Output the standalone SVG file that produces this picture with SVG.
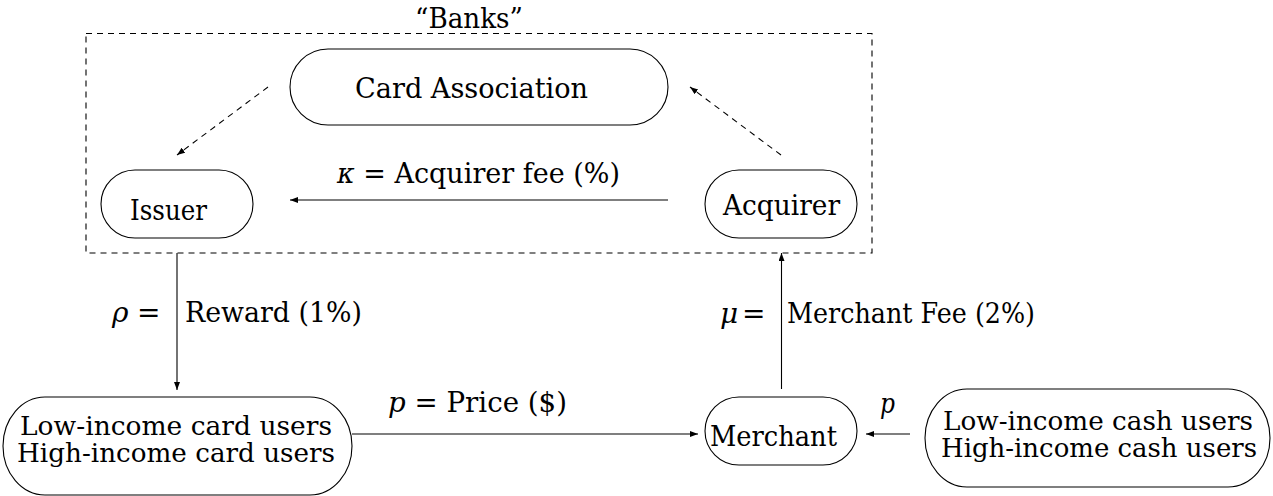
<svg xmlns="http://www.w3.org/2000/svg" width="1273" height="496" viewBox="0 0 1273 496">
  <style>
    .node { fill: #fff; stroke: #000; stroke-width: 1.1; }
    .edge { fill: none; stroke: #000; stroke-width: 1.1; }
    .dash { stroke-dasharray: 6 5; }
    .m { font-style: italic; }
  </style>
  <defs>
    <marker id="tip" markerUnits="userSpaceOnUse" markerWidth="9" markerHeight="7" refX="8" refY="3" orient="auto">
      <path d="M0,0 L8,3 L0,6 z" fill="#000"/>
    </marker>
  </defs>

  <g font-family="DejaVu Serif, serif" font-size="28" fill="#000">
    <!-- banks group frame -->
    <g id="banks">
      <rect x="86" y="33.5" width="786" height="219.5" fill="none" stroke="#000" stroke-width="1.1" stroke-dasharray="6 5"/>
      <text x="415" y="28" textLength="108" lengthAdjust="spacingAndGlyphs">“Banks”</text>
    </g>

    <g id="card-association">
      <rect class="node" x="290" y="49" width="378" height="76" rx="38" ry="38"/>
      <text x="355" y="98" textLength="233" lengthAdjust="spacingAndGlyphs">Card Association</text>
    </g>

    <g id="issuer">
      <rect class="node" x="101" y="170" width="152" height="68" rx="34" ry="34"/>
      <text x="130" y="220" textLength="77" lengthAdjust="spacingAndGlyphs">Issuer</text>
    </g>

    <g id="acquirer">
      <rect class="node" x="705" y="170" width="152" height="68" rx="34" ry="34"/>
      <text x="723" y="215" textLength="117" lengthAdjust="spacingAndGlyphs">Acquirer</text>
    </g>

    <g id="card-users">
      <rect class="node" x="3" y="397" width="349" height="98" rx="42" ry="49"/>
      <text x="20" y="435" font-size="26" textLength="312" lengthAdjust="spacingAndGlyphs">Low-income card users</text>
      <text x="17" y="462" font-size="26" textLength="318" lengthAdjust="spacingAndGlyphs">High-income card users</text>
    </g>

    <g id="merchant">
      <rect class="node" x="705" y="397" width="152" height="68" rx="34" ry="34"/>
      <text x="710" y="446" textLength="127" lengthAdjust="spacingAndGlyphs">Merchant</text>
    </g>

    <g id="cash-users">
      <rect class="node" x="925" y="389" width="345" height="98" rx="42" ry="49"/>
      <text x="943" y="430" font-size="26" textLength="310" lengthAdjust="spacingAndGlyphs">Low-income cash users</text>
      <text x="941" y="457" font-size="26" textLength="316" lengthAdjust="spacingAndGlyphs">High-income cash users</text>
    </g>

    <g id="connectors">
      <!-- dashed links inside the banks frame -->
      <line class="edge dash" x1="268" y1="87" x2="177" y2="155" marker-end="url(#tip)"/>
      <line class="edge dash" x1="781" y1="155" x2="690" y2="87" marker-end="url(#tip)"/>

      <!-- acquirer fee -->
      <line class="edge" x1="668" y1="200" x2="290" y2="200" marker-end="url(#tip)"/>
      <text x="337" y="183" textLength="283" lengthAdjust="spacingAndGlyphs"><tspan class="m">κ</tspan> = Acquirer fee (%)</text>

      <!-- reward -->
      <line class="edge" x1="177" y1="253" x2="177" y2="390" marker-end="url(#tip)"/>
      <text x="112" y="322"><tspan class="m">ρ</tspan><tspan x="137">=</tspan></text>
      <text x="185" y="322" textLength="177" lengthAdjust="spacingAndGlyphs">Reward (1%)</text>

      <!-- merchant fee -->
      <line class="edge" x1="781.5" y1="389" x2="781.5" y2="253" marker-end="url(#tip)"/>
      <text x="720" y="323"><tspan class="m">μ</tspan><tspan x="742">=</tspan></text>
      <text x="787" y="323" textLength="248" lengthAdjust="spacingAndGlyphs">Merchant Fee (2%)</text>

      <!-- price paid by card users -->
      <line class="edge" x1="352" y1="434" x2="698" y2="434" marker-end="url(#tip)"/>
      <text x="388" y="412" textLength="179" lengthAdjust="spacingAndGlyphs"><tspan class="m">p</tspan> = Price ($)</text>

      <!-- price paid by cash users -->
      <line class="edge" x1="910" y1="434" x2="866" y2="434" marker-end="url(#tip)"/>
      <text x="880" y="413" class="m" textLength="15" lengthAdjust="spacingAndGlyphs">p</text>
    </g>
  </g>
</svg>
